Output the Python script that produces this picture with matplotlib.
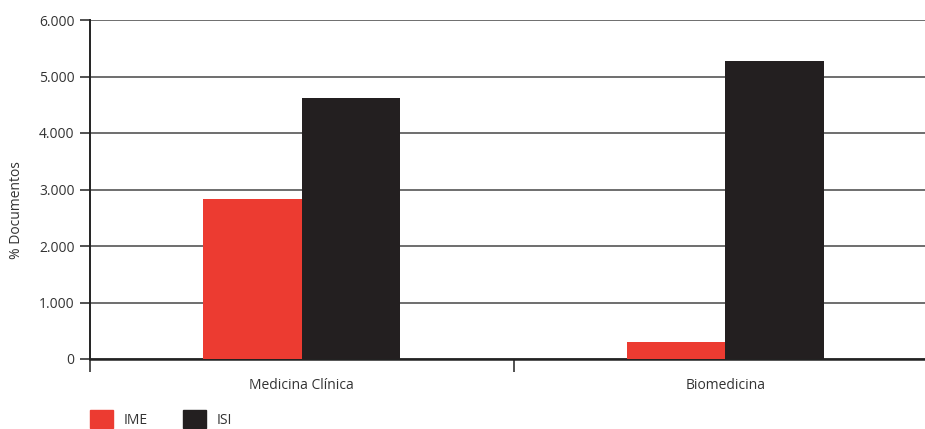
import numpy as np
import matplotlib.pyplot as plt
from matplotlib.patches import Rectangle
from matplotlib.ticker import FuncFormatter, FixedLocator

categories = ["Medicina Clínica", "Biomedicina"]
ime = [2830, 300]
isi = [4620, 5275]
series_names = ["IME", "ISI"]
colors = ["#ec3b31", "#231f20"]

plt.rcParams["font.family"] = ["Open Sans", "DejaVu Sans"]

fig = plt.figure(figsize=(9.25, 4.29), dpi=100)
# axes runs past the right edge of the figure, as in the original
ax = fig.add_axes([90 / 925, 1 - 359 / 429, 847 / 925, 339 / 429])

x = np.arange(len(categories))
w = 0.232
ax.bar(x - w / 2, ime, w, color=colors[0], zorder=3)
ax.bar(x + w / 2, isi, w, color=colors[1], zorder=3)

ax.set_xlim(-0.5, 1.5)
ax.set_ylim(0, 6000)
ax.set_yticks(np.arange(0, 6001, 1000))
ax.yaxis.set_major_formatter(FuncFormatter(lambda v, p: f"{int(v):,}".replace(",", ".")))
ax.yaxis.grid(True, color="#555555", linewidth=1.2, zorder=0)

ax.set_xticks(x)
ax.set_xticklabels(categories)
ax.tick_params(axis="x", length=0, pad=14, labelsize=10, labelcolor="#333333")
ax.xaxis.set_minor_locator(FixedLocator([-0.5, 0.5]))
ax.tick_params(axis="x", which="minor", length=9, width=1.2, color="#333333")
ax.tick_params(axis="y", length=7, width=1.2, color="#333333", labelsize=10,
               labelcolor="#333333", pad=4)

for s in ["top", "right"]:
    ax.spines[s].set_visible(False)
ax.spines["left"].set_color("#222222")
ax.spines["left"].set_linewidth(1.4)
ax.spines["bottom"].set_color("#222222")
ax.spines["bottom"].set_linewidth(1.8)

fig.text(17 / 925, 1 - 210 / 429, "% Documentos", rotation=90, ha="center",
         va="center", fontsize=10, color="#333333")

# legend
for i, (name, c) in enumerate(zip(series_names, colors)):
    x0 = 90 + i * 93
    fig.patches.append(Rectangle((x0 / 925, 1 - 428 / 429), 23 / 925, 18 / 429,
                                 transform=fig.transFigure, color=c))
    fig.text((x0 + 34) / 925, 1 - 421 / 429, name, ha="left", va="center",
             fontsize=10, color="#333333")

fig.savefig("out.png", dpi=100)
